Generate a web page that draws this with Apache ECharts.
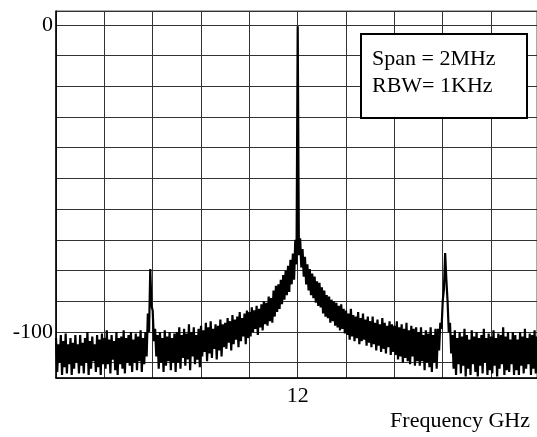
<!DOCTYPE html>
<html>
<head>
<meta charset="utf-8">
<title>Spectrum</title>
<script src="https://cdn.jsdelivr.net/npm/echarts@6/dist/echarts.min.js"></script>
<style>
  html, body { margin: 0; padding: 0; background: #fff; }
  #chart { width: 537px; height: 437px; }
</style>
</head>
<body>
<div id="chart"></div>
<script>
// offset from 12 GHz in kHz, one sample every 10 kHz (peak of the noise at f, dip at f+5)
var startKHz = -1000;
var stepKHz = 10;

// upper edge of the trace (dBm) (100 kHz per row)
var traceHigh = [
  -102, -104, -101, -103, -100.5, -104, -102, -103.5, -101, -104,
  -101, -103.5, -102, -100, -103, -101.5, -104, -101, -102.5, -100.5,
  -102, -99.5, -102.5, -101, -103, -100, -102, -101.5, -99.5, -102,
  -101, -100, -102.5, -100.5, -101.5, -99.5, -102, -100, -94, -79.5,
  -93, -99, -101, -100, -102, -99.5, -101.5, -100, -102, -100.5,
  -100, -98.5, -101, -99, -100.5, -97.5, -100, -98.5, -101, -99,
  -98, -99.5, -97, -98.5, -96.5, -99, -97.5, -98, -96, -97.5,
  -97, -95.5, -96.5, -94.5, -96, -95, -93.5, -95.5, -94, -93,
  -93.5, -92, -93, -91.5, -92.5, -91, -90, -90.5, -88.5, -89,
  -86.5, -85, -84.5, -83, -81.5, -80, -78.5, -76.5, -74.5, -70,
  -0.5, -69.5, -73, -75.5, -78, -79.5, -81, -82, -83.5, -84,
  -85.5, -86.5, -88, -88.5, -89.5, -90, -90.5, -91.5, -91, -92.5,
  -93, -94, -92.5, -94.5, -95, -93.5, -95.5, -94, -96, -95,
  -96.5, -95, -97, -96, -97.5, -95.5, -97, -98, -96.5, -97.5,
  -98, -96.5, -98.5, -97.5, -99, -97, -99.5, -98, -99, -98.5,
  -100, -98.5, -101, -99.5, -100.5, -98.5, -101, -99, -99, -97,
  -90, -74.3, -90, -97, -101, -99.5, -102, -100, -101.5, -99,
  -101, -102.5, -99.5, -101.5, -100, -102, -101, -99, -102, -100.5,
  -101.5, -99.5, -102, -100.5, -101, -98.5, -101.5, -100, -102.5, -100,
  -101, -102.5, -100, -101.5, -99, -102, -100.5, -101, -99.5, -101.5
];

// lower edge of the trace (dBm), at f+5 kHz
var traceLow = [
  -113, -110, -114, -111.5, -113.5, -110.5, -114, -112, -110, -113.5,
  -111, -113.5, -110, -114, -112, -109.5, -113, -111.5, -114, -110.5,
  -112, -110.5, -113.5, -109, -112.5, -114, -110.5, -112, -113.5, -110,
  -111, -113, -110, -112.5, -109.5, -113, -110.5, -108, -100, -91.5,
  -103, -108, -112, -110, -113, -111, -109.5, -112.5, -110, -113,
  -110, -112, -108.5, -111, -109, -112.5, -108, -110.5, -109, -111.5,
  -108, -106.5, -109.5, -107, -108.5, -105.5, -109, -106, -108, -105,
  -105.5, -103.5, -106, -104, -102.5, -105, -103, -101.5, -104, -102,
  -101.5, -100, -99, -101, -98.5, -99.5, -97.5, -98, -96.5, -97,
  -95, -93.5, -92.5, -91, -89.5, -88, -87, -84.5, -83, -78,
  -75, -79, -82, -84.5, -86.5, -88, -89, -90.5, -91.5, -92,
  -94, -95, -95.5, -97, -96.5, -98, -98.5, -99.5, -99, -100.5,
  -101, -102.5, -101.5, -103, -102, -104, -103, -102.5, -104.5, -103.5,
  -105, -104, -106, -104.5, -106.5, -105.5, -107, -105, -107.5, -106.5,
  -107.5, -109, -108, -110, -108.5, -109.5, -110.5, -108, -111, -109.5,
  -111, -109.5, -112.5, -110, -111.5, -113, -110, -112, -106, -99,
  -86, -83, -100, -107, -112, -114, -110.5, -113.5, -111, -114.5,
  -112, -114, -110.5, -113, -114.5, -111, -113.5, -110, -114, -112.5,
  -113.5, -111, -114.5, -112, -110.5, -114, -112.5, -113, -110.5, -114,
  -112.5, -114, -111, -113.5, -112, -110.5, -114, -112, -113.5, -111
];

// tick labels that are printed
var xTickLabels = { 0: '12' };
var yTickLabels = [0, -100];

var traceData = [];
for (var i = 0; i < traceHigh.length; i++) {
  var f = startKHz + i * stepKHz;
  traceData.push([f, traceHigh[i]]);
  traceData.push([f + stepKHz / 2, traceLow[i]]);
}

var font = 'Liberation Serif';
var option = {
  animation: false,
  backgroundColor: '#fff',
  grid: {
    left: 56,
    right: 0,
    top: 11,
    bottom: 59,
    containLabel: false,
    outerBoundsMode: 'none',
    show: true,
    borderColor: '#555',
    borderWidth: 1
  },
  xAxis: {
    type: 'value',
    min: -1000,
    max: 990,
    interval: 200,
    axisLine: { onZero: false, lineStyle: { color: '#000', width: 1.5 } },
    axisTick: { show: false },
    axisLabel: {
      color: '#000',
      fontFamily: font,
      fontSize: 22,
      margin: 7,
      formatter: function (v) {
        return xTickLabels[v] || '';
      }
    },
    splitLine: { lineStyle: { color: '#333', width: 1 } }
  },
  yAxis: {
    type: 'value',
    min: -115,
    max: 4.5,
    splitNumber: 12,
    name: 'Power dBm',
    nameLocation: 'middle',
    nameGap: 38,
    nameTextStyle: { color: '#000', fontFamily: font, fontSize: 22 },
    axisLine: { show: true, onZero: false, lineStyle: { color: '#000', width: 1.5 } },
    axisTick: { show: false },
    axisLabel: {
      color: '#000',
      fontFamily: font,
      fontSize: 22,
      margin: 3,
      formatter: function (v) {
        return yTickLabels.indexOf(v) >= 0 ? String(v) : '';
      }
    },
    splitLine: { lineStyle: { color: '#333', width: 1 } }
  },
  graphic: [
    {
      type: 'text',
      right: 7,
      top: 410,
      style: { text: 'Frequency GHz', fill: '#000', font: '22px "Liberation Serif"' }
    },
    {
      type: 'rect',
      left: 360,
      top: 33,
      z: 100,
      shape: { width: 166, height: 84 },
      style: { fill: '#fff', stroke: '#000', lineWidth: 2 }
    },
    {
      type: 'text',
      left: 372,
      top: 46,
      z: 101,
      style: { text: 'Span = 2MHz\nRBW= 1KHz', fill: '#000', font: '22px "Liberation Serif"', lineHeight: 27 }
    }
  ],
  series: [
    {
      type: 'line',
      data: traceData,
      showSymbol: false,
      symbol: 'none',
      sampling: null,
      lineStyle: { color: '#000', width: 2.2 },
      z: 5
    }
  ]
};

var chart = echarts.init(document.getElementById('chart'));
chart.setOption(option);
</script>
</body>
</html>
